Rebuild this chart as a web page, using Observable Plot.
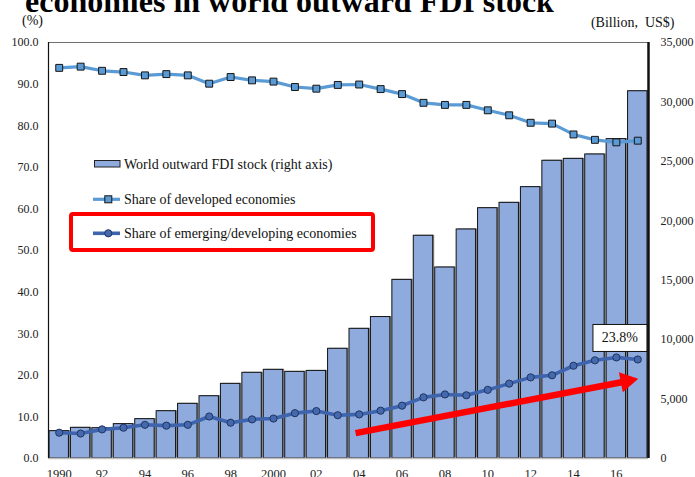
<!DOCTYPE html>
<html>
<head>
<meta charset="utf-8">
<script src="https://cdn.jsdelivr.net/npm/d3@7"></script>
<script src="https://cdn.jsdelivr.net/npm/@observablehq/plot@0.6"></script>
<style>
  body { margin: 0; background: #fff; }
  #wrap { position: relative; width: 695px; height: 477px; overflow: hidden; }
  #title {
    position: absolute; left: 25px; top: -15px; z-index: 2;
    font: bold 32px "Liberation Serif", "Times New Roman", serif;
    line-height: 32px; white-space: nowrap; color: #000;
  }
  #chart { position: absolute; left: 0; top: 0; }
</style>
</head>
<body>
<div id="wrap">
  <div id="title">economies in world outward FDI stock</div>
  <div id="chart"></div>
</div>
<script>
// Years shown on the horizontal axis
const years = [1990, 1991, 1992, 1993, 1994, 1995, 1996, 1997, 1998, 1999,
               2000, 2001, 2002, 2003, 2004, 2005, 2006, 2007, 2008, 2009,
               2010, 2011, 2012, 2013, 2014, 2015, 2016, 2017];

// World outward FDI stock, billion US$ (right axis)
const fdiStock = [2300, 2580, 2550, 2890, 3310, 3980, 4600, 5240, 6280, 7210,
                  7460, 7290, 7370, 9230, 10910, 11900, 15030, 18740, 16070, 19270,
                  21060, 21510, 22830, 25050, 25210, 25580, 26870, 30900];

// Share of developed economies, % (left axis)
const developedShare = [93.9, 94.2, 93.2, 92.9, 92.1, 92.4, 92.1, 90.1, 91.7, 90.9,
                        90.6, 89.3, 88.9, 89.8, 89.9, 88.8, 87.6, 85.5, 85.0, 85.0,
                        83.7, 82.5, 80.7, 80.5, 77.9, 76.6, 76.0, 76.4];

// Share of emerging/developing economies, % (left axis)
const emergingShare = [6.2, 6.0, 7.0, 7.4, 8.1, 7.9, 8.1, 10.1, 8.6, 9.4,
                       9.6, 10.9, 11.4, 10.4, 10.6, 11.5, 12.7, 14.7, 15.4, 15.2,
                       16.5, 18.0, 19.5, 20.0, 22.3, 23.6, 24.3, 23.8];

// Axis ticks
const shareTicks = [0, 10, 20, 30, 40, 50, 60, 70, 80, 90, 100];
const stockTicks = [0, 5000, 10000, 15000, 20000, 25000, 30000, 35000];
const yearTicks = [1990, 1992, 1994, 1996, 1998, 2000, 2002, 2004, 2006, 2008, 2010, 2012, 2014, 2016];

// Trend arrow annotation (year, share %): shaft from tail to head base, head centroid
const trendShaft = [{x1: 2003.83, y1: 6.1, x2: 2016.3, y2: 18.4}];
const trendHead = [{x: 2016.48, y: 18.6}];

// The right axis (0–35,000) shares the left axis' 0–100 range
const stockMax = 35000;
const toShare = v => v / stockMax * 100;
const fromShare = s => s * stockMax / 100;

const rows = years.map((year, i) => ({
  year,
  stock: fdiStock[i],
  developed: developedShare[i],
  emerging: emergingShare[i]
}));
const last = rows[rows.length - 1];
const lastLabel = `${last.emerging}%`;

const serif = "'Liberation Serif', 'Times New Roman', serif";
const barFill = "#8FAADC";
const devColor = "#5B9BD5";
const emgColor = "#3E64AD";

const yearLabel = y => (y === 1990 || y === 2000) ? String(y) : String(y % 100).padStart(2, "0");

const plot = Plot.plot({
  width: 695,
  height: 477,
  marginLeft: 48,
  marginRight: 47,
  marginTop: 42,
  marginBottom: 19,
  style: {fontFamily: serif, fontSize: "12px", color: "#222", background: "#fff"},
  x: {type: "linear", domain: [1989.5, 2017.5], axis: null},
  y: {domain: [0, 100], axis: null},
  marks: [
    // bar shadows, then bars
    Plot.rectY(rows, {
      x1: d => d.year - 0.5, x2: d => d.year + 0.5, y1: 0, y2: d => toShare(d.stock),
      insetLeft: 1, insetRight: 1, fill: "#8a8a8a", dx: 1.5, dy: -0.5
    }),
    Plot.rectY(rows, {
      x1: d => d.year - 0.5, x2: d => d.year + 0.5, y1: 0, y2: d => toShare(d.stock),
      insetLeft: 1, insetRight: 1, fill: barFill, stroke: "#111", strokeWidth: 1
    }),
    // plot area border
    Plot.ruleY([100], {stroke: "#6f6f6f", strokeWidth: 1.2}),
    Plot.ruleY([0], {stroke: "#bdbdbd", strokeWidth: 1.5}),
    Plot.ruleX([1989.5], {stroke: "#111", strokeWidth: 1.2}),
    Plot.ruleX([2017.5], {stroke: "#111", strokeWidth: 2.5}),
    // share of developed economies
    Plot.line(rows, {x: "year", y: "developed", stroke: devColor, strokeWidth: 3.2}),
    Plot.dot(rows, {x: "year", y: "developed", symbol: "square", r: 3.9, fill: devColor, stroke: "#151515", strokeWidth: 1}),
    // share of emerging/developing economies
    Plot.line(rows, {x: "year", y: "emerging", stroke: emgColor, strokeWidth: 3.6}),
    Plot.dot(rows, {x: "year", y: "emerging", r: 3.6, fill: "#4569AE", stroke: "#1F3560", strokeWidth: 1}),
    // upward trend arrow
    Plot.link(trendShaft, {x1: "x1", y1: "y1", x2: "x2", y2: "y2", stroke: "#ff0000", strokeWidth: 6.5}),
    Plot.dot(trendHead, {x: "x", y: "y", symbol: "triangle", r: 7.6, fill: "#ff0000", rotate: 79}),
    // latest value label
    Plot.text([last], {
      x: "year", y: "emerging", text: () => lastLabel,
      dx: -18, dy: -22, fontSize: 14, fill: "#111", lineAnchor: "middle"
    }),
    // axes
    Plot.axisY(shareTicks, {
      anchor: "left", tickSize: 0, tickPadding: 10, label: null,
      tickFormat: d => d.toFixed(1), fontSize: 12
    }),
    Plot.axisY(stockTicks.map(toShare), {
      anchor: "right", tickSize: 0, tickPadding: 12, label: null,
      tickFormat: d => d3.format(",")(Math.round(fromShare(d))), fontSize: 12
    }),
    Plot.axisX(yearTicks, {
      anchor: "bottom", tickSize: 0, tickPadding: 11, label: null,
      tickFormat: yearLabel, fontSize: 12.5
    }),
    // axis unit labels
    Plot.text(["(%)"], {frameAnchor: "top-left", text: d => d, dx: -16, dy: -22, textAnchor: "middle", lineAnchor: "middle", fontSize: 14, fill: "#111"}),
    Plot.text(["(Billion,\u00a0\u00a0US$)"], {frameAnchor: "top-right", text: d => d, dx: 26, dy: -20, textAnchor: "end", lineAnchor: "middle", fontSize: 14, fill: "#111"})
  ]
});

document.getElementById("chart").appendChild(plot);

const svg = d3.select(plot);

// white box behind the latest-value label, drawn in the label's own coordinate space
svg.selectAll("text").filter(function () { return this.textContent === lastLabel; })
  .each(function () {
    const textEl = this;
    const b = textEl.getBBox();
    const w = 54, h = 27;
    const cx = b.x + b.width / 2, cy = b.y + b.height / 2;
    const t = textEl.getAttribute("transform");
    d3.select(textEl.parentNode).insert("rect", () => textEl)
      .attr("x", cx - w / 2).attr("y", cy - h / 2 + 0.5)
      .attr("width", w).attr("height", h)
      .attr("transform", t)
      .attr("fill", "#fff").attr("stroke", "#111").attr("stroke-width", 1);
  });

// legend inside the plot area
const lg = svg.append("g")
  .attr("font-family", serif).attr("font-size", 14).attr("fill", "#111")
  .attr("text-anchor", "start");
lg.append("rect").attr("x", 94.5).attr("y", 160.5).attr("width", 25.5).attr("height", 6.5)
  .attr("fill", barFill).attr("stroke", "#222").attr("stroke-width", 1);
lg.append("text").attr("x", 124).attr("y", 168.5).text("World outward FDI stock (right axis)");

lg.append("line").attr("x1", 93).attr("x2", 120).attr("y1", 199.3).attr("y2", 199.3)
  .attr("stroke", devColor).attr("stroke-width", 3.2);
lg.append("rect").attr("x", 104.8).attr("y", 195.8).attr("width", 7).attr("height", 7)
  .attr("fill", devColor).attr("stroke", "#151515").attr("stroke-width", 1);
lg.append("text").attr("x", 124).attr("y", 203.8).text("Share of developed economies");

lg.append("line").attr("x1", 93).attr("x2", 120).attr("y1", 233.3).attr("y2", 233.3)
  .attr("stroke", emgColor).attr("stroke-width", 3.6);
lg.append("circle").attr("cx", 108.3).attr("cy", 233.3).attr("r", 3.6)
  .attr("fill", "#4569AE").attr("stroke", "#1F3560").attr("stroke-width", 1);
lg.append("text").attr("x", 124).attr("y", 238).text("Share of emerging/developing economies");

lg.append("rect").attr("x", 71).attr("y", 214).attr("width", 302).attr("height", 36).attr("rx", 2)
  .attr("fill", "none").attr("stroke", "#ff0000").attr("stroke-width", 4);
</script>
</body>
</html>
